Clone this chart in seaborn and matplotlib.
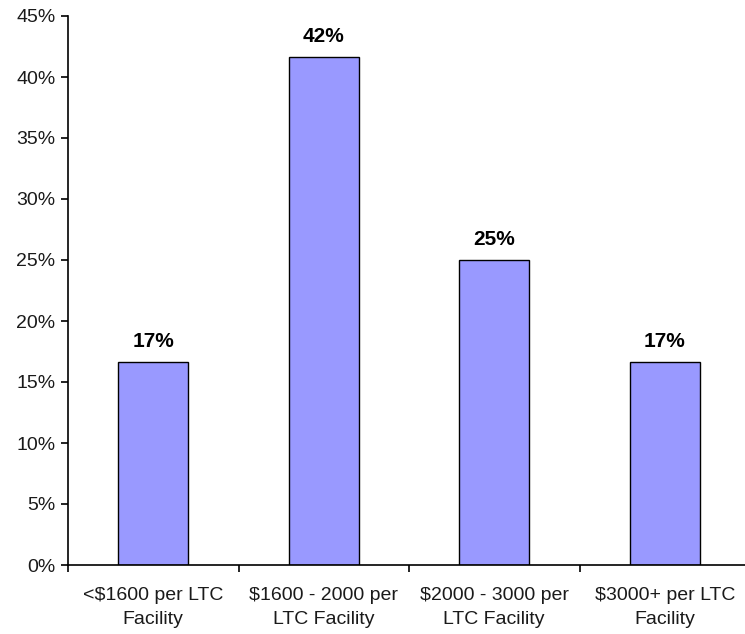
import matplotlib
matplotlib.use("Agg")
import matplotlib.pyplot as plt
from matplotlib.ticker import FixedLocator, PercentFormatter
import seaborn as sns
import pandas as pd

categories = ["<$1600 per LTC\nFacility", "$1600 - 2000 per\nLTC Facility",
              "$2000 - 3000 per\nLTC Facility", "$3000+ per LTC\nFacility"]
shares = [16.67, 41.67, 25.0, 16.67]
value_labels = ["17%", "42%", "25%", "17%"]

sns.set_theme(style="white")
plt.rcParams["font.family"] = ["Liberation Sans", "DejaVu Sans"]

df = pd.DataFrame({"category": categories, "share": shares})

fig = plt.figure(figsize=(7.45, 6.34), dpi=100)
ax = fig.add_axes([68 / 745, 69 / 634, 682 / 745, 549 / 634])

sns.barplot(data=df, x="category", y="share", color="#9999FF", saturation=1,
            width=0.41, edgecolor="black", linewidth=1.0, ax=ax)

ax.set_xlim(-0.5, 3.5)
ax.set_ylim(0, 45)
ax.set_yticks(range(0, 46, 5))
ax.yaxis.set_major_formatter(PercentFormatter(decimals=0))
ax.set_xlabel("")
ax.set_ylabel("")

for spine in ["top", "right"]:
    ax.spines[spine].set_visible(False)
for spine in ["left", "bottom"]:
    ax.spines[spine].set_color("black")
    ax.spines[spine].set_linewidth(1.2)

ax.tick_params(axis="y", which="major", left=True, length=5, width=1.2,
               color="black", labelsize=14, labelcolor="#1a1a1a", pad=4)
ax.tick_params(axis="x", which="major", bottom=False, labelsize=14,
               labelcolor="#1a1a1a", pad=10)
ax.xaxis.set_minor_locator(FixedLocator([-0.5, 0.5, 1.5, 2.5, 3.5]))
ax.tick_params(axis="x", which="minor", bottom=True, length=5, width=1.2,
               color="black", direction="out")
for lbl in ax.get_xticklabels():
    lbl.set_linespacing(1.55)

for i, (v, txt) in enumerate(zip(shares, value_labels)):
    ax.annotate(txt, (i, v), xytext=(0, 8), textcoords="offset points",
                ha="center", va="bottom", fontsize=15, fontweight="bold",
                color="black")

fig.savefig("out.png", dpi=100)
